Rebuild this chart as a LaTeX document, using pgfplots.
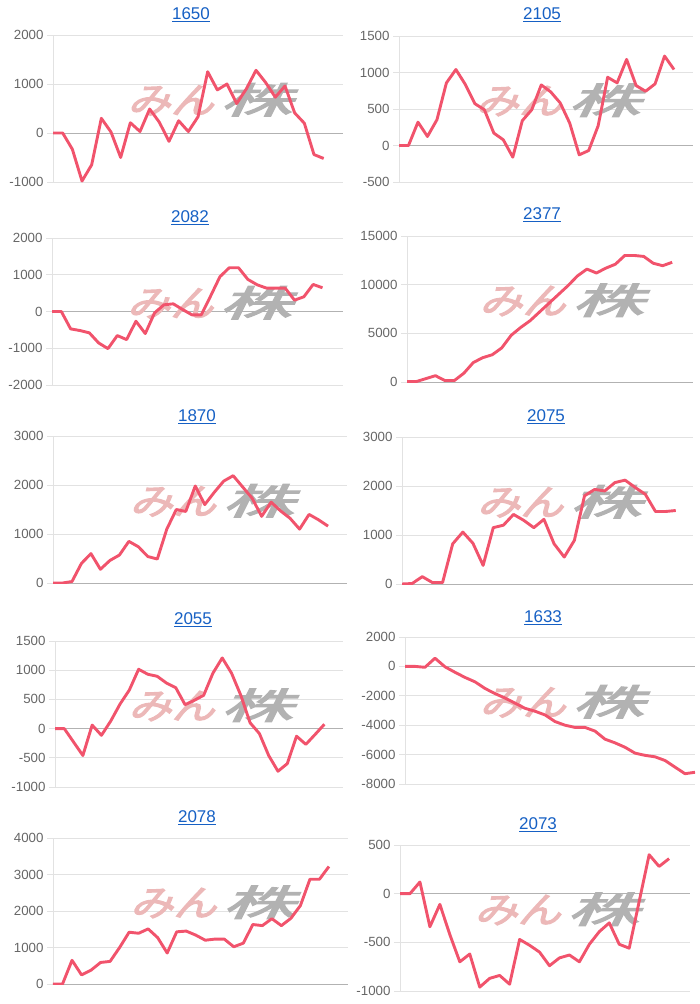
\documentclass[border=0pt]{standalone}
\usepackage{fontspec}
\setmainfont{Liberation Sans}
\newfontfamily\cjk{Noto Sans CJK JP}[FakeSlant=0.25, AutoFakeBold=3]
\usepackage{pgfplots}
\pgfplotsset{compat=1.18}
\definecolor{linec}{RGB}{241,83,108}
\definecolor{gridc}{RGB}{226,226,226}
\definecolor{zeroc}{RGB}{178,178,178}
\definecolor{tickc}{RGB}{102,102,102}
\definecolor{linkc}{RGB}{22,96,196}
\definecolor{wmpink}{RGB}{236,184,184}
\definecolor{wmgray}{RGB}{178,178,178}

\newcommand\logo{{\cjk\bfseries\fontsize{36}{36}\selectfont
  \scalebox{1.2}[1]{\textcolor{wmpink}{みん}}\hspace{6pt}%
  \scalebox{2.0}[1]{\textcolor{wmgray}{株}}}}

\pgfplotsset{
  mini/.style={
    anchor=south west, scale only axis,
    xmin=0, xtick=\empty,
    axis x line*=bottom, axis y line*=left,
    axis line style={draw=gridc, line width=0.8pt},
    ymajorgrids, grid style={gridc, line width=0.8pt},
    major tick length=6pt, tick align=outside,
    tick style={gridc, line width=0.8pt},
    yticklabel style={font=\fontsize{13.3}{15}\selectfont, text=tickc},
    /pgf/number format/assume math mode=true,
    /pgf/number format/1000 sep={},
    scaled y ticks=false,
    extra y ticks={0}, extra y tick labels={},
    extra y tick style={grid style={zeroc, line width=0.8pt}},
    every axis plot post/.append style={linec, line width=2.9pt, line join=round, mark=none},
  },
}
\tikzset{ttl/.style={text=linkc, font=\fontsize{17}{19}\selectfont}}

\begin{document}
\begin{tikzpicture}
\path[use as bounding box] (0pt,0pt) rectangle (700pt,-1004pt);

% row 1
\begin{axis}[mini, at={(53pt,-182pt)}, width=290pt, height=147pt,
  xmax=30, ymin=-1000, ymax=2000, ytick distance=1000]
\node at (rel axis cs:0.54,0.56) {\logo};
\addplot coordinates {(0,0) (1,0) (2,-330) (3,-980) (4,-650) (5,300) (6,20) (7,-500) (8,210) (9,30)
  (10,490) (11,220) (12,-170) (13,250) (14,30) (15,330) (16,1250) (17,880) (18,1000) (19,600)
  (20,900) (21,1280) (22,1030) (23,730) (24,960) (25,410) (26,200) (27,-440) (28,-520)};
\end{axis}
\node[ttl] at (191pt,-15pt) {\underline{1650}};

\begin{axis}[mini, at={(399pt,-182pt)}, width=294pt, height=146pt,
  xmax=31, ymin=-500, ymax=1500, ytick distance=500]
\node at (rel axis cs:0.54,0.56) {\logo};
\addplot coordinates {(0,0) (1,0) (2,320) (3,124) (4,353) (5,858) (6,1041) (7,835) (8,573) (9,490)
  (10,170) (11,78) (12,-160) (13,340) (14,490) (15,830) (16,734) (17,583) (18,307) (19,-128)
  (20,-69) (21,270) (22,935) (23,858) (24,1179) (25,821) (26,743) (27,844) (28,1225) (29,1041)};
\end{axis}
\node[ttl] at (542pt,-15pt) {\underline{2105}};

% row 2
\begin{axis}[mini, at={(52pt,-385pt)}, width=291pt, height=147pt,
  xmax=31.2, ymin=-2000, ymax=2000, ytick distance=1000]
\node at (rel axis cs:0.54,0.56) {\logo};
\addplot coordinates {(0,0) (1,0) (2,-473) (3,-518) (4,-580) (5,-855) (6,-1010) (7,-655) (8,-764) (9,-264)
  (10,-600) (11,-36) (12,182) (13,209) (14,55) (15,-90) (16,-90) (17,418) (18,945) (19,1190)
  (20,1190) (21,873) (22,727) (23,636) (24,636) (25,636) (26,309) (27,400) (28,736) (29,645)};
\end{axis}
\node[ttl] at (190pt,-218pt) {\underline{2082}};

\begin{axis}[mini, at={(407pt,-382pt)}, width=286pt, height=146pt,
  xmax=30.2, ymin=0, ymax=15000, ytick distance=5000]
\node at (rel axis cs:0.54,0.56) {\logo};
\addplot coordinates {(0,50) (1,50) (2,350) (3,650) (4,150) (5,150) (6,900) (7,2000) (8,2500) (9,2800)
  (10,3500) (11,4800) (12,5600) (13,6300) (14,7200) (15,8100) (16,9000) (17,9900) (18,10900) (19,11600)
  (20,11200) (21,11700) (22,12100) (23,13000) (24,13000) (25,12900) (26,12200) (27,11950) (28,12300)};
\end{axis}
\node[ttl] at (542pt,-215pt) {\underline{2377}};

% row 3
\begin{axis}[mini, at={(53pt,-583pt)}, width=294pt, height=147pt,
  xmax=31, ymin=0, ymax=3000, ytick distance=1000]
\node at (rel axis cs:0.54,0.56) {\logo};
\addplot coordinates {(0,0) (1,0) (2,30) (3,400) (4,600) (5,280) (6,460) (7,570) (8,850) (9,740)
  (10,540) (11,490) (12,1100) (13,1500) (14,1460) (15,1980) (16,1600) (17,1850) (18,2080) (19,2190)
  (20,1960) (21,1730) (22,1360) (23,1650) (24,1470) (25,1320) (26,1100) (27,1400) (28,1290) (29,1160)};
\end{axis}
\node[ttl] at (197pt,-417pt) {\underline{1870}};

\begin{axis}[mini, at={(402pt,-584pt)}, width=291pt, height=147pt,
  xmax=28.7, ymin=0, ymax=3000, ytick distance=1000]
\node at (rel axis cs:0.54,0.56) {\logo};
\addplot coordinates {(0,0) (1,10) (2,150) (3,30) (4,30) (5,820) (6,1060) (7,830) (8,380) (9,1150)
  (10,1200) (11,1420) (12,1300) (13,1150) (14,1320) (15,820) (16,550) (17,890) (18,1800) (19,1930)
  (20,1900) (21,2070) (22,2120) (23,1970) (24,1830) (25,1480) (26,1480) (27,1500)};
\end{axis}
\node[ttl] at (546pt,-417pt) {\underline{2075}};

% row 4
\begin{axis}[mini, at={(55pt,-787pt)}, width=288pt, height=146pt,
  xmax=31, ymin=-1000, ymax=1500, ytick distance=500]
\node at (rel axis cs:0.54,0.56) {\logo};
\addplot coordinates {(0,0) (1,0) (2,-230) (3,-460) (4,60) (5,-115) (6,130) (7,420) (8,660) (9,1016)
  (10,930) (11,896) (12,780) (13,700) (14,410) (15,485) (16,570) (17,950) (18,1210) (19,950)
  (20,570) (21,100) (22,-85) (23,-460) (24,-730) (25,-600) (26,-130) (27,-270) (28,-100) (29,75)};
\end{axis}
\node[ttl] at (193pt,-620pt) {\underline{2055}};

\begin{axis}[mini, at={(405pt,-784pt)}, width=290pt, height=147pt,
  xmax=29, ymin=-8000, ymax=2000, ytick distance=2000]
\node at (rel axis cs:0.54,0.56) {\logo};
\addplot coordinates {(0,0) (1,0) (2,-60) (3,560) (4,-30) (5,-400) (6,-750) (7,-1050) (8,-1500) (9,-1850)
  (10,-2150) (11,-2500) (12,-2850) (13,-3050) (14,-3300) (15,-3750) (16,-4000) (17,-4150) (18,-4150) (19,-4400)
  (20,-4950) (21,-5200) (22,-5500) (23,-5900) (24,-6050) (25,-6150) (26,-6400) (27,-6850) (28,-7300) (29,-7200)};
\end{axis}
\node[ttl] at (543pt,-618pt) {\underline{1633}};

% row 5
\begin{axis}[mini, at={(53pt,-984pt)}, width=295pt, height=146pt,
  xmax=31, ymin=0, ymax=4000, ytick distance=1000]
\node at (rel axis cs:0.54,0.56) {\logo};
\addplot coordinates {(0,0) (1,0) (2,650) (3,250) (4,380) (5,590) (6,620) (7,1000) (8,1420) (9,1390)
  (10,1510) (11,1270) (12,850) (13,1430) (14,1450) (15,1340) (16,1200) (17,1230) (18,1230) (19,1020)
  (20,1120) (21,1630) (22,1600) (23,1790) (24,1600) (25,1800) (26,2150) (27,2870) (28,2870) (29,3220)};
\end{axis}
\node[ttl] at (197pt,-818pt) {\underline{2078}};

\begin{axis}[mini, at={(400pt,-991pt)}, width=290pt, height=146pt,
  xmax=29.1, ymin=-1000, ymax=500, ytick distance=500]
\node at (rel axis cs:0.54,0.56) {\logo};
\addplot coordinates {(0,0) (1,0) (2,120) (3,-340) (4,-110) (5,-420) (6,-700) (7,-620) (8,-960) (9,-870)
  (10,-840) (11,-930) (12,-470) (13,-530) (14,-600) (15,-740) (16,-660) (17,-630) (18,-700) (19,-520)
  (20,-390) (21,-300) (22,-520) (23,-560) (24,-80) (25,400) (26,280) (27,360)};
\end{axis}
\node[ttl] at (538pt,-825pt) {\underline{2073}};
\end{tikzpicture}
\end{document}
